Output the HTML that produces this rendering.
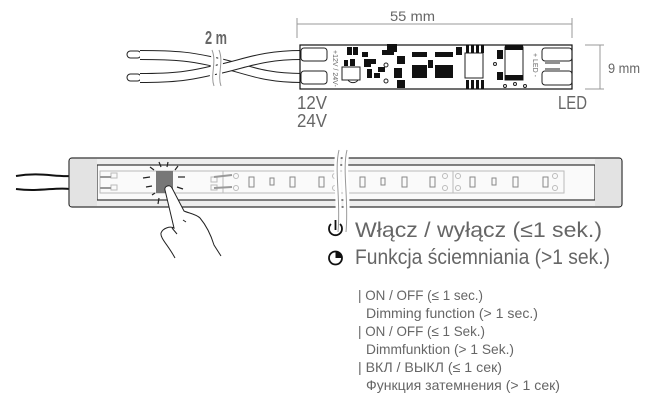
<!DOCTYPE html>
<html><head><meta charset="utf-8"><style>
body{margin:0;background:#fff;width:660px;height:410px;overflow:hidden}
svg{display:block}
.t{font-family:"Liberation Sans",sans-serif;fill:#666}
</style></head><body>
<svg width="660" height="410" viewBox="0 0 660 410" xmlns="http://www.w3.org/2000/svg">
<g stroke="#999" stroke-width="1" fill="none">
<line x1="297" y1="24" x2="572" y2="24"/>
<line x1="297" y1="18" x2="297" y2="38"/>
<line x1="572" y1="18" x2="572" y2="38"/>
<line x1="600" y1="45" x2="600" y2="89"/>
<line x1="585" y1="45" x2="604" y2="45"/>
<line x1="585" y1="89" x2="604" y2="89"/>
</g>
<text class="t" x="390" y="21" font-size="14" textLength="45" lengthAdjust="spacingAndGlyphs">55 mm</text>
<text class="t" x="608" y="73" font-size="14" textLength="32" lengthAdjust="spacingAndGlyphs">9 mm</text>
<g fill="none" stroke="#222" stroke-width="1">
<rect x="127" y="51" width="14" height="7" rx="3.5"/>
<rect x="127" y="74" width="14" height="7" rx="3.5"/>
</g>
<g fill="none" stroke-linecap="butt">
<path d="M140 55 C185 55 195 58 215 62 C245 68 260 78 302 78" stroke="#222" stroke-width="10"/>
<path d="M140 55 C185 55 195 58 215 62 C245 68 260 78 302 78" stroke="#fff" stroke-width="8"/>
<path d="M140 78 C185 78 195 74 215 70 C245 64 260 55 302 55" stroke="#222" stroke-width="10"/>
<path d="M140 78 C185 78 195 74 215 70 C245 64 260 55 302 55" stroke="#fff" stroke-width="8"/>
</g>
<path d="M212 48 C217 60 209 75 214 90 M219 48 C224 60 216 75 221 90" stroke="#fff" stroke-width="5" fill="none"/>
<path d="M212 50 C217 62 210 75 214 86 M219 50 C224 62 217 75 221 86" stroke="#999" stroke-width="1" fill="none"/>
<text class="t" x="205" y="44" font-size="18" fill="#777" font-weight="bold" textLength="22" lengthAdjust="spacingAndGlyphs">2 m</text>
<text class="t" x="297" y="109" font-size="18" fill="#777" textLength="30" lengthAdjust="spacingAndGlyphs">12V</text>
<text class="t" x="297" y="127" font-size="18" fill="#777" textLength="30" lengthAdjust="spacingAndGlyphs">24V</text>
<text class="t" x="558" y="109" font-size="18" fill="#777" textLength="29" lengthAdjust="spacingAndGlyphs">LED</text>
<rect x="300" y="45" width="272" height="44" fill="#fff" stroke="#111" stroke-width="1.2"/>
<g fill="none" stroke="#222" stroke-width="1">
<rect x="301" y="48" width="26" height="13" rx="3"/>
<rect x="301" y="71" width="26" height="13" rx="3"/>
<rect x="542" y="48" width="30" height="13" rx="3"/>
<rect x="542" y="71" width="30" height="14" rx="3"/>
<path d="M545 63 H560 M545 69 H560"/>
<circle cx="386" cy="65" r="2"/><circle cx="386" cy="81" r="2"/>
<rect x="342" y="67" width="18" height="13"/>
<path d="M348 80 a6 6 0 0 0 10 0"/>
<rect x="465" y="53" width="18" height="25"/>
<rect x="505" y="47" width="18" height="33"/>
<circle cx="495" cy="64" r="1.5"/><circle cx="505" cy="86" r="1.5"/><circle cx="515" cy="84" r="1.5"/><circle cx="525" cy="86" r="1.5"/>
</g>
<text x="333" y="50" font-size="7" class="t" fill="#222" transform="rotate(90 333 50)">+12V / 24V-</text>
<text x="533" y="53" font-size="7" class="t" fill="#222" transform="rotate(90 533 53)">+ LED -</text>
<g fill="#111">
<rect x="347" y="47" width="5" height="8"/><rect x="353" y="47" width="5" height="8"/>
<rect x="344" y="60" width="4" height="6"/><rect x="350" y="59" width="5" height="7"/>
<rect x="362" y="52" width="6" height="5"/><rect x="364" y="59" width="7" height="8"/><rect x="367" y="69" width="5" height="9"/><rect x="371" y="59" width="5" height="5"/>
<rect x="378" y="67" width="7" height="5"/><rect x="374" y="73" width="6" height="5"/>
<rect x="382" y="50" width="12" height="5"/><rect x="387" y="44" width="10" height="8"/>
<rect x="397" y="56" width="8" height="8"/><rect x="394" y="68" width="8" height="10"/><rect x="397" y="80" width="8" height="8"/>
<rect x="412" y="52" width="15" height="5"/><rect x="412" y="65" width="15" height="13"/>
<rect x="435" y="52" width="18" height="5"/><rect x="435" y="65" width="18" height="13"/>
<rect x="428" y="60" width="5" height="8"/>
<rect x="456" y="47" width="6" height="8"/>
<rect x="466" y="45" width="3" height="8"/><rect x="471" y="45" width="3" height="8"/><rect x="476" y="45" width="3" height="8"/><rect x="481" y="45" width="3" height="8"/>
<rect x="466" y="80" width="3" height="9"/><rect x="471" y="80" width="3" height="9"/><rect x="476" y="80" width="3" height="9"/><rect x="481" y="80" width="3" height="9"/>
<rect x="497" y="50" width="6" height="9"/><rect x="497" y="72" width="6" height="8"/>
<rect x="505" y="45" width="18" height="5"/><rect x="505" y="75" width="18" height="5"/>
</g>
<g stroke="#333" stroke-width="1.2">
<path d="M16 176 C40 172 55 177 70 176 M16 189 C40 192 55 187 70 189" fill="none" stroke="#111" stroke-width="2"/>
<rect x="69" y="158" width="553" height="49" rx="3" fill="#eee"/>
<rect x="97" y="165" width="498" height="35" fill="#fafafa"/>
</g>
<rect x="70" y="159" width="27" height="47" fill="#e3e3e3"/>
<rect x="595" y="159" width="26" height="47" fill="#e3e3e3"/>
<g fill="none" stroke="#bbb" stroke-width="1">
<rect x="100" y="171" width="123" height="22"/>
<rect x="223" y="171" width="341" height="22"/>
<line x1="453" y1="171" x2="453" y2="193"/>
<rect x="111" y="173" width="6" height="5"/><rect x="111" y="185" width="6" height="5"/>
<rect x="211" y="177" width="6" height="5"/><rect x="211" y="185" width="6" height="5"/>
<circle cx="236" cy="176" r="2.5"/><circle cx="236" cy="188" r="2.5"/>
<circle cx="335" cy="176" r="2.5"/><circle cx="335" cy="188" r="2.5"/>
<circle cx="445" cy="176" r="2.5"/><circle cx="445" cy="188" r="2.5"/>
<circle cx="458" cy="176" r="2.5"/><circle cx="458" cy="188" r="2.5"/>
<circle cx="555" cy="176" r="2.5"/><circle cx="555" cy="188" r="2.5"/>
</g>
<g fill="none" stroke="#888" stroke-width="1">
<rect x="249" y="177" width="5" height="10"/><rect x="270" y="178" width="4" height="7"/><rect x="290" y="177" width="5" height="10"/><rect x="319" y="177" width="5" height="10"/>
<rect x="360" y="177" width="5" height="10"/><rect x="381" y="178" width="4" height="7"/><rect x="402" y="177" width="5" height="10"/><rect x="430" y="177" width="5" height="10"/>
<rect x="470" y="177" width="5" height="10"/><rect x="492" y="178" width="4" height="7"/><rect x="513" y="177" width="5" height="10"/><rect x="543" y="177" width="5" height="10"/>
</g>
<g stroke="#999" stroke-width="2"><line x1="100" y1="177" x2="111" y2="177"/><line x1="100" y1="188" x2="111" y2="188"/><line x1="214" y1="177" x2="232" y2="175"/><line x1="214" y1="188" x2="232" y2="187"/></g>
<path d="M339 150 C334 170 341 200 338 232 M347 150 C342 170 349 200 346 232" stroke="#fff" stroke-width="6" fill="none"/>
<path d="M339 150 C334 170 341 200 338 232 M347 150 C342 170 349 200 346 232" stroke="#999" stroke-width="1" fill="none"/>
<rect x="156" y="171" width="17" height="22" fill="#777"/>
<g stroke="#222" stroke-width="1.2">
<line x1="159" y1="162" x2="161" y2="167"/><line x1="168" y1="162" x2="167" y2="167"/><line x1="150" y1="167" x2="154" y2="170"/><line x1="178" y1="166" x2="175" y2="170"/>
<line x1="143" y1="178" x2="150" y2="177"/><line x1="146" y1="187" x2="152" y2="186"/><line x1="178" y1="177" x2="185" y2="177"/><line x1="177" y1="187" x2="183" y2="189"/>
<line x1="152" y1="195" x2="155" y2="193"/><line x1="158" y1="204" x2="159" y2="198"/>
</g>
<path d="M175 258 C168 245 160 238 161 233 C163 228 170 226 174 228 L165 190 C164 186 170 184 172 188 L184 211 C188 213 196 214 200 218 C205 224 210 232 214 245 L221 256" fill="#fff" stroke="#222" stroke-width="1"/>
<path d="M172 228 L177 234 M183 220 L186 222" stroke="#222" fill="none" stroke-width="1"/>
<g fill="none" stroke="#111" stroke-width="1.8">
<path d="M331 224 A6.5 6.5 0 1 0 340 224"/><line x1="335.5" y1="220" x2="335.5" y2="230"/>
<circle cx="335.5" cy="258" r="6.5"/>
</g>
<path d="M335.5 251.5 A6.5 6.5 0 0 1 342 258 L335.5 258 Z" fill="#111"/>
<text class="t" x="355" y="237" font-size="21" textLength="247" lengthAdjust="spacingAndGlyphs">Włącz / wyłącz (≤1 sek.)</text>
<text class="t" x="355" y="264" font-size="21" textLength="255" lengthAdjust="spacingAndGlyphs">Funkcja ściemniania (>1 sek.)</text>
<g class="t" font-size="14" fill="#555">
<text x="358" y="300" textLength="125" lengthAdjust="spacingAndGlyphs">| ON / OFF (≤ 1 sec.)</text>
<text x="366" y="318" textLength="172" lengthAdjust="spacingAndGlyphs">Dimming function (> 1 sec.)</text>
<text x="358" y="336" textLength="127" lengthAdjust="spacingAndGlyphs">| ON / OFF (≤ 1 Sek.)</text>
<text x="366" y="354" textLength="148" lengthAdjust="spacingAndGlyphs">Dimmfunktion (> 1 Sek.)</text>
<text x="358" y="372" textLength="144" lengthAdjust="spacingAndGlyphs">| ВКЛ / ВЫКЛ (≤ 1 сек)</text>
<text x="366" y="390" textLength="194" lengthAdjust="spacingAndGlyphs">Функция затемнения (> 1 сек)</text>
</g>
</svg>
</body></html>
